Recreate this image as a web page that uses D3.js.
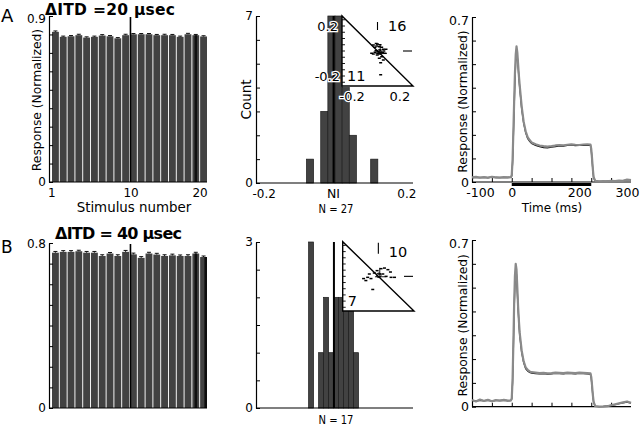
<!DOCTYPE html>
<html><head><meta charset="utf-8">
<script src="https://cdn.jsdelivr.net/npm/d3@7"></script>
<style>
body{margin:0;background:#fff}
text{font-family:"DejaVu Sans",sans-serif;fill:#000}
</style></head>
<body><svg id="c" width="640" height="426"></svg>
<script>
// ---------------- DATA ----------------
const stimuli = [1,2,3,4,5,6,7,8,9,10,11,12,13,14,15,16,17,18,19,20];
const respA = [0.814,0.787,0.790,0.796,0.783,0.787,0.794,0.790,0.779,0.796,0.801,0.801,0.801,0.796,0.796,0.796,0.787,0.801,0.796,0.789];
const errA  = [0.005,0.004,0.004,0.005,0.004,0.004,0.005,0.004,0.004,0.005,0.004,0.004,0.004,0.004,0.005,0.004,0.004,0.005,0.004,0.004];
const respB = [0.753,0.757,0.757,0.760,0.753,0.753,0.737,0.749,0.737,0.757,0.745,0.728,0.749,0.744,0.737,0.740,0.737,0.737,0.749,0.732];
const errB  = [0.006,0.006,0.006,0.005,0.006,0.006,0.006,0.005,0.006,0.007,0.006,0.006,0.006,0.006,0.006,0.006,0.005,0.006,0.006,0.005];
const darkStimA = [19];
const darkStimB = [19,20];
const yTicksA = [0,0.1,0.2,0.3,0.4,0.5,0.6,0.7,0.8,0.9];
const yTicksB = [0,0.1,0.2,0.3,0.4,0.5,0.6,0.7,0.8];
const stimLabels = [1,10,20];

const histBinsA = [-0.08,-0.04,-0.02,0,0.02,0.04,0.10];
const histCountsA = [1,3,8,8,4,2,1];
const histWidthA = 0.02;
const histBinsB = [-0.074,-0.046,-0.032,-0.018,-0.004,0.010,0.024,0.038,0.052];
const histCountsB = [4,1,2,1,2,2,2,2,1];
const histWidthB = 0.014;
const meanNI = [-0.004,-0.003];
const countTicksA = [0,1,2,3,4,5,6,7];
const countTicksB = [0,0.5,1,1.5,2,2.5,3];
const niLabels = [-0.2,0.2];
const nLabels = ["N = 27","N = 17"];

const insetTicks = [-0.25,-0.2,-0.15,-0.1,-0.05,0,0.05,0.1,0.15,0.2,0.25];
const insetAx = [-0.033,-0.02,-0.006,0.014,0.033,0.046,0.067,0.02,-0.012,0.007,0.041,0.059,-0.033,-0.002,0.033,0.014,0.046,0.025,-0.046,0.025,-0.01,0.0,0.02,0.05,0.03,-0.02,0.01];
const insetAy = [0.048,0.03,0.04,0.034,0.03,0.014,0.014,0.008,0.002,-0.006,-0.014,-0.018,-0.024,-0.032,-0.046,-0.058,-0.072,-0.094,-0.018,-0.19,0.06,0.055,0.05,0.0,-0.01,-0.01,-0.02];
const insetBx = [-0.116,-0.084,-0.058,-0.071,-0.032,0.021,0.048,0.075,0.095,0.127,0.1,0.061,-0.044,0.008,-0.01,0.035,-0.098];
const insetBy = [-0.018,-0.008,-0.018,0.019,0.027,0.062,0.067,0.054,0.035,-0.008,-0.008,0.0,-0.106,0.019,0.046,0.019,-0.034];
const insetCounts = [[16,11],[10,7]];

const times = [-100,-90,-80,-70,-60,-50,-40,-30,-20,-10,-2,0,2,4,6,8,10,12,14,16,18,20,25,30,35,40,45,50,60,70,80,90,100,110,120,130,140,150,160,170,180,190,198,200,202,204,206,210,220,230,240,250,260,270,280,290,300];
const traceAgray = [0.020,0.022,0.018,0.021,0.019,0.022,0.020,0.018,0.021,0.020,0.021,0.030,0.090,0.210,0.340,0.460,0.540,0.575,0.550,0.500,0.450,0.410,0.320,0.255,0.215,0.190,0.178,0.168,0.160,0.155,0.152,0.150,0.152,0.155,0.157,0.156,0.158,0.160,0.158,0.157,0.159,0.160,0.159,0.140,0.100,0.055,0.020,0.005,0.003,0.004,0.003,0.005,0.004,0.006,0.005,0.010,0.008];
const traceAblack = [0.018,0.020,0.019,0.020,0.018,0.021,0.019,0.019,0.020,0.019,0.020,0.025,0.080,0.190,0.310,0.430,0.510,0.545,0.530,0.490,0.440,0.400,0.310,0.250,0.210,0.185,0.172,0.163,0.155,0.150,0.146,0.145,0.148,0.150,0.153,0.152,0.155,0.156,0.154,0.155,0.156,0.157,0.156,0.135,0.095,0.050,0.018,0.004,0.003,0.003,0.004,0.004,0.005,0.005,0.006,0.008,0.007];
const traceBgray = [0.028,0.022,0.030,0.024,0.029,0.023,0.028,0.025,0.029,0.026,0.027,0.035,0.110,0.260,0.430,0.550,0.600,0.575,0.500,0.420,0.360,0.310,0.235,0.190,0.165,0.155,0.148,0.145,0.143,0.141,0.142,0.140,0.141,0.143,0.142,0.141,0.143,0.142,0.141,0.143,0.142,0.141,0.140,0.125,0.090,0.050,0.020,0.002,0.000,0.000,0.002,0.006,0.010,0.014,0.018,0.022,0.016];
const traceBblack = [0.026,0.024,0.027,0.025,0.027,0.024,0.026,0.026,0.027,0.025,0.026,0.032,0.100,0.240,0.400,0.520,0.570,0.555,0.480,0.410,0.350,0.300,0.228,0.185,0.160,0.150,0.144,0.141,0.139,0.138,0.139,0.137,0.138,0.140,0.139,0.138,0.140,0.139,0.138,0.140,0.139,0.138,0.137,0.120,0.085,0.045,0.018,0.002,0.000,0.001,0.003,0.006,0.009,0.013,0.016,0.019,0.015];
const respTicks = [0,0.1,0.2,0.3,0.4,0.5,0.6,0.7];
const timeTicks = [-50,0,50,100,150,200,250];
const timeLabels = [-100,0,200,300];

// ---------------- DRAW ----------------
const svg = d3.select('#c');
const BAR = '#424242';

function inwardY(g, scale, x, ticks, labels, fs, topShift) {
  const a = g.append('g').attr('transform', `translate(${x},0)`)
    .call(d3.axisRight(scale).tickValues(ticks).tickSize(4).tickSizeOuter(0).tickFormat(''));
  a.select('.domain').attr('stroke', '#000').attr('stroke-width', 1.2);
  a.selectAll('.tick line').attr('stroke', '#000');
  if (labels) {
    const top = labels[labels.length - 1];
    const l = g.append('g').attr('transform', `translate(${x},0)`)
      .call(d3.axisLeft(scale).tickValues(labels).tickSize(0).tickPadding(3).tickFormat(d => String(d)));
    l.select('.domain').remove();
    l.selectAll('text').attr('font-family', '"DejaVu Sans",sans-serif').attr('font-size', fs || 12)
      .attr('y', d => d === top ? (topShift || 0) : 0);
  }
}
function hline(g, x1, x2, y) {
  g.append('line').attr('x1', x1).attr('x2', x2).attr('y1', y).attr('y2', y).attr('stroke', '#000').attr('stroke-width', 1.2);
}

// ---- Left bar panels ----
function barPanel(top, bottom, yMax, resp, err, ticks, dark, showX, showY) {
  const g = svg.append('g');
  const x = d3.scaleBand().domain(stimuli).range([52, 207]).paddingInner(0.12);
  const y = d3.scaleLinear().domain([0, yMax]).range([bottom, top]);
  g.selectAll('rect.bar').data(stimuli).join('rect').attr('class', 'bar')
    .attr('x', d => x(d)).attr('width', x.bandwidth())
    .attr('y', (d, i) => y(resp[i])).attr('height', (d, i) => bottom - y(resp[i]))
    .attr('fill', BAR);
  g.selectAll('rect.dk').data(dark).join('rect').attr('class', 'dk')
    .attr('x', (d, i) => x(d) + (d === 20 ? x.bandwidth() - 2.6 : 2.2)).attr('width', 2.6)
    .attr('y', d => y(resp[d - 1])).attr('height', d => bottom - y(resp[d - 1]))
    .attr('fill', '#0e0e0e');
  g.selectAll('line.eb').data(stimuli).join('line').attr('class', 'eb')
    .attr('x1', d => x(d) + x.bandwidth() / 2).attr('x2', d => x(d) + x.bandwidth() / 2)
    .attr('y1', (d, i) => y(resp[i])).attr('y2', (d, i) => y(resp[i] + err[i]))
    .attr('stroke', '#111').attr('stroke-width', 1);
  g.selectAll('line.cap').data(stimuli).join('line').attr('class', 'cap')
    .attr('x1', d => x(d) + x.bandwidth() / 2 - 2).attr('x2', d => x(d) + x.bandwidth() / 2 + 2)
    .attr('y1', (d, i) => y(resp[i] + err[i])).attr('y2', (d, i) => y(resp[i] + err[i]))
    .attr('stroke', '#111').attr('stroke-width', 1);
  const xm = x(11) + 0.5;
  g.append('line').attr('x1', xm).attr('x2', xm).attr('y1', top + 1).attr('y2', bottom)
    .attr('stroke', '#000').attr('stroke-width', 1.6);
  inwardY(g, y, 49, ticks, [0, yMax], 12, showX ? 3 : 1);
  hline(g, 49, 207, bottom);
  if (showX) {
    const off = {1: -3.5, 10: 5.5, 20: -3.5};
    const a = g.append('g').attr('transform', `translate(0,${bottom})`)
      .call(d3.axisBottom(x).tickValues(stimLabels).tickSize(0).tickPadding(6));
    a.select('.domain').remove();
    a.selectAll('text').attr('font-family', '"DejaVu Sans",sans-serif').attr('font-size', 12)
      .attr('dx', d => off[d]);
    g.append('text').attr('x', 134).attr('y', 212).attr('text-anchor', 'middle')
      .attr('font-size', 13.4).text('Stimulus number');
  }
  if (showY) {
    g.append('text').attr('transform', `translate(40.5,${(top + bottom) / 2 + 1}) rotate(-90)`)
      .attr('text-anchor', 'middle').attr('font-size', 12.3).text('Response (Normalized)');
  }
}
barPanel(16, 182, 0.9, respA, errA, yTicksA, darkStimA, true, true);
barPanel(243, 408, 0.8, respB, errB, yTicksB, darkStimB, false, false);

// titles & panel letters
svg.append('text').attr('x', 1).attr('y', 22).attr('font-size', 18).text('A');
svg.append('text').attr('x', 1).attr('y', 253).attr('font-size', 17).text('B');
svg.append('text').attr('x', 45).attr('y', 14.5).attr('font-size', 15.5).attr('font-weight', 'bold')
  .attr('textLength', 130).attr('lengthAdjust', 'spacing').text('ΔITD =20 µsec');
svg.append('text').attr('x', 55).attr('y', 239).attr('font-size', 16).attr('font-weight', 'bold')
  .attr('textLength', 127).attr('lengthAdjust', 'spacing').text('ΔITD = 40 µsec');

// ---- Middle histogram panels ----
const xNI = d3.scaleLinear().domain([-0.22, 0.22]).range([256.5, 413.5]);
function histPanel(idx, top, bottom, yMax, bins, counts, w, ticks, inset) {
  const g = svg.append('g');
  const y = d3.scaleLinear().domain([0, yMax]).range([bottom, top]).clamp(true);
  g.selectAll('rect').data(bins).join('rect')
    .attr('x', d => xNI(d)).attr('width', d => xNI(d + w) - xNI(d))
    .attr('y', (d, i) => y(counts[i])).attr('height', (d, i) => bottom - y(counts[i]))
    .attr('fill', BAR).attr('stroke', '#1c1c1c').attr('stroke-width', 0.7);
  g.append('line').attr('x1', xNI(meanNI[idx])).attr('x2', xNI(meanNI[idx]))
    .attr('y1', top).attr('y2', bottom).attr('stroke', '#000').attr('stroke-width', 2);
  inwardY(g, y, 256, ticks, [0, yMax], 12, 0);
  hline(g, 256, 413, bottom);
  if (idx === 0) {
    const a = g.append('g').attr('transform', `translate(0,${bottom})`)
      .call(d3.axisBottom(xNI).tickValues(niLabels).tickSize(0).tickPadding(6).tickFormat(d => String(d)));
    a.select('.domain').remove();
    a.selectAll('text').attr('font-family', '"DejaVu Sans",sans-serif').attr('font-size', 12);
    g.append('text').attr('x', xNI(0) - 1.5).attr('y', 198).attr('text-anchor', 'middle').attr('font-size', 12.5).text('NI');
    g.append('text').attr('transform', `translate(251,${(top + bottom) / 2}) rotate(-90)`)
      .attr('text-anchor', 'middle').attr('font-size', 13.5).text('Count');
  }
  g.append('text').attr('x', 336).attr('y', idx === 0 ? 213 : 424).attr('text-anchor', 'middle')
    .attr('font-size', 12).attr('textLength', 35).attr('lengthAdjust', 'spacingAndGlyphs').text(nLabels[idx]);

  const ix = d3.scaleLinear().domain([-0.28, 0.28]).range([inset.x0, inset.x1]);
  const iy = d3.scaleLinear().domain([-0.28, 0.28]).range([inset.y1, inset.y0]);
  const gi = g.append('g');
  gi.append('path').attr('d', `M${inset.x0},${inset.y0}L${inset.x0},${inset.y1}L${inset.x1},${inset.y1}Z`)
    .attr('fill', '#fff').attr('stroke', '#000').attr('stroke-width', 1.4).attr('stroke-linejoin', 'miter');
  gi.selectAll('line.it').data(insetTicks).join('line').attr('class', 'it')
    .attr('x1', inset.x0).attr('x2', inset.x0 + 3).attr('y1', d => iy(d)).attr('y2', d => iy(d))
    .attr('stroke', '#000').attr('stroke-width', 0.9);
  gi.append('line').attr('x1', ix(0)).attr('x2', ix(0)).attr('y1', inset.y0 + inset.vm[0]).attr('y2', inset.y0 + inset.vm[1])
    .attr('stroke', '#000').attr('stroke-width', 1.1);
  gi.append('line').attr('x1', inset.x1 - 10).attr('x2', inset.x1 - 1).attr('y1', iy(0)).attr('y2', iy(0))
    .attr('stroke', '#000').attr('stroke-width', 1.1);
  const px = inset.px, py = inset.py;
  gi.selectAll('rect.pt').data(px).join('rect').attr('class', 'pt')
    .attr('x', (d, i) => ix(d) - 1.5).attr('y', (d, i) => iy(py[i]) - 0.75)
    .attr('width', 3).attr('height', 1.5).attr('fill', '#000');
  const mx = d3.mean(px), my = d3.mean(py);
  gi.append('circle').attr('cx', ix(mx)).attr('cy', iy(my)).attr('r', 2.3)
    .attr('fill', 'none').attr('stroke', '#000').attr('stroke-width', 0.9);
  gi.append('line').attr('x1', ix(mx - 0.03)).attr('x2', ix(mx + 0.06)).attr('y1', iy(my) + 1.5).attr('y2', iy(my) + 1.5)
    .attr('stroke', '#000').attr('stroke-width', 0.9);
  gi.append('line').attr('x1', ix(mx) + 1).attr('x2', ix(mx) + 1).attr('y1', iy(my + 0.06)).attr('y2', iy(my - 0.02))
    .attr('stroke', '#000').attr('stroke-width', 0.9);
  gi.append('text').attr('x', inset.x0 + 46).attr('y', inset.y0 + 15).attr('font-size', 14.5).text(insetCounts[idx][0]);
  gi.append('text').attr('x', inset.x0 + 5).attr('y', inset.y1 - 5).attr('font-size', 14.5).text(insetCounts[idx][1]);
  if (inset.labels) {
    const halo = s => s.attr('stroke', '#fff').attr('stroke-width', 2.5).attr('paint-order', 'stroke');
    gi.append('text').attr('x', inset.x0 - 4).attr('y', iy(0.2)).attr('dy', '0.36em').attr('text-anchor', 'end')
      .attr('font-size', 13).call(halo).text(String(0.2));
    gi.append('text').attr('x', inset.x0 - 2).attr('y', iy(-0.2)).attr('dy', '0.36em').attr('text-anchor', 'end')
      .attr('font-size', 13).call(halo).text(String(-0.2));
    gi.append('text').attr('x', ix(-0.2)).attr('y', inset.y1 + 14.5).attr('text-anchor', 'middle')
      .attr('font-size', 13).call(halo).text(String(-0.2));
    gi.append('text').attr('x', ix(0.2) - 3).attr('y', inset.y1 + 14.5).attr('text-anchor', 'middle')
      .attr('font-size', 13).call(halo).text(String(0.2));
  }
}
histPanel(0, 16, 183, 7, histBinsA, histCountsA, histWidthA, countTicksA,
  {x0: 342, x1: 413, y0: 16, y1: 86, vm: [6, 14], px: insetAx, py: insetAy, labels: true});
histPanel(1, 242, 408, 3, histBinsB, histCountsB, histWidthB, countTicksB,
  {x0: 342.7, x1: 414, y0: 241.7, y1: 311, vm: [1, 12], px: insetBx, py: insetBy, labels: false});

// ---- Right time-course panels ----
const xT = d3.scaleLinear().domain([-100, 300]).range([472, 631]);
function tracePanel(idx, top, bottom, gray, black) {
  const g = svg.append('g');
  const y = d3.scaleLinear().domain([0, 0.7]).range([bottom, top]);
  inwardY(g, y, 472, respTicks, [0, 0.7], 12.5, 3);
  const ax = g.append('g').attr('transform', `translate(0,${bottom})`)
    .call(d3.axisTop(xT).tickValues(timeTicks).tickSize(4).tickSizeOuter(0).tickFormat(''));
  ax.select('.domain').remove();
  hline(g, 472, 631, bottom);
  const line = arr => d3.line().x((d, i) => xT(times[i])).y((d, i) => y(arr[i]))(arr);
  g.append('path').attr('d', line(black)).attr('fill', 'none').attr('stroke', '#111').attr('stroke-width', 1.3);
  g.append('path').attr('d', line(gray)).attr('fill', 'none').attr('stroke', '#8a8a8a').attr('stroke-width', 2.2)
    .attr('stroke-linejoin', 'round');
  g.append('text').attr('transform', `translate(467,${(top + bottom) / 2 + 2}) rotate(-90)`)
    .attr('text-anchor', 'middle').attr('font-size', 12.3).text('Response (Normalized)');
  if (idx === 0) {
    g.append('rect').attr('x', xT(0)).attr('y', bottom + 1).attr('width', xT(200) - xT(0)).attr('height', 3).attr('fill', '#000');
    const off = {'-100': 8, '0': 0, '200': -12, '300': -4};
    const a = g.append('g').attr('transform', `translate(0,${bottom})`)
      .call(d3.axisBottom(xT).tickValues(timeLabels).tickSize(0).tickPadding(6.5).tickFormat(d => String(d)));
    a.select('.domain').remove();
    a.selectAll('text').attr('font-family', '"DejaVu Sans",sans-serif').attr('font-size', 12.5).attr('dx', d => off[d]);
    g.append('text').attr('x', 552).attr('y', 212).attr('text-anchor', 'middle').attr('font-size', 12).text('Time (ms)');
  }
}
tracePanel(0, 17, 182, traceAgray, traceAblack);
tracePanel(1, 240, 406.7, traceBgray, traceBblack);
</script></body></html>
